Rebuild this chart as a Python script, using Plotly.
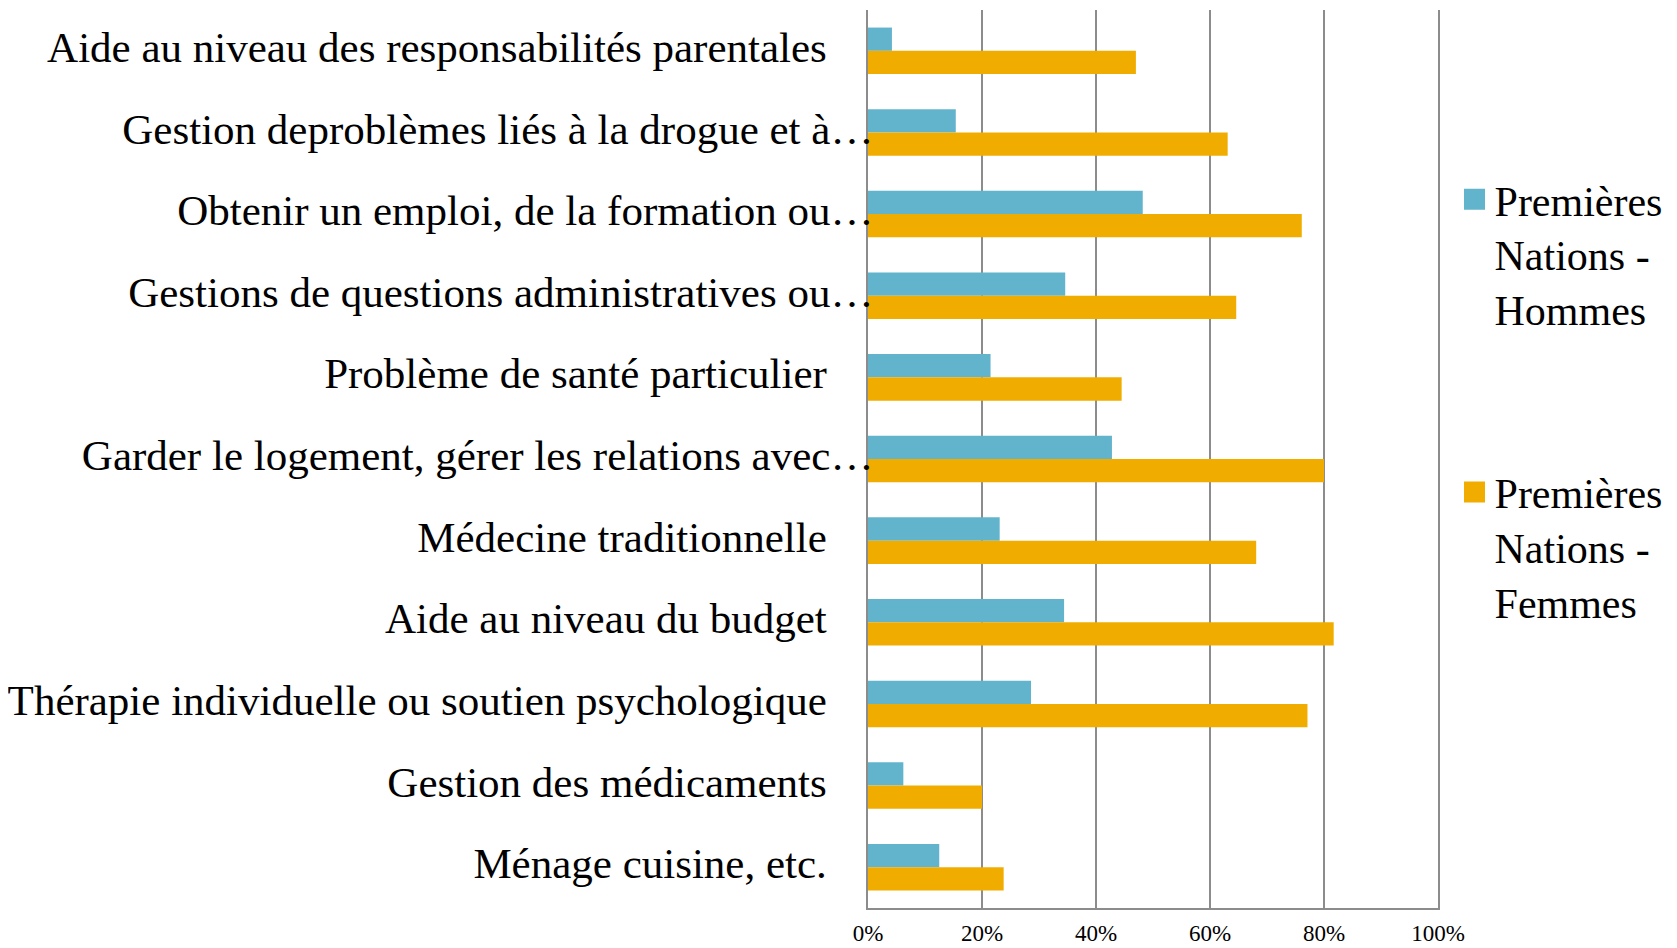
import plotly.graph_objects as go

categories = [
    "Aide au niveau des responsabilités parentales",
    "Gestion deproblèmes liés à la drogue et à…",
    "Obtenir un emploi, de la formation ou…",
    "Gestions de questions administratives ou…",
    "Problème de santé particulier",
    "Garder le logement, gérer les relations avec…",
    "Médecine traditionnelle",
    "Aide au niveau du budget",
    "Thérapie individuelle ou soutien psychologique",
    "Gestion des médicaments",
    "Ménage cuisine, etc.",
]
hommes = [4.2, 15.4, 48.2, 34.6, 21.5, 42.8, 23.1, 34.4, 28.6, 6.2, 12.5]
femmes = [47.0, 63.1, 76.1, 64.6, 44.5, 80.0, 68.1, 81.7, 77.1, 20.0, 23.8]
series_names = ["Premières<br>Nations -<br>Hommes", "Premières<br>Nations -<br>Femmes"]
x_ticks = [0, 20, 40, 60, 80, 100]

BLUE = "#62b4cd"
ORANGE = "#f0ad00"
GRID = "#8c8c8c"
FONT = "Liberation Serif"

# labels that were not truncated end a bit before the axis
ticktext = [c if c.endswith("…") else c + "\u2002\u2002\u200a" for c in categories]

fig = go.Figure()
fig.add_trace(go.Bar(y=categories, x=hommes, orientation="h", name=series_names[0],
                     marker=dict(color=BLUE, line=dict(width=0)), showlegend=False))
fig.add_trace(go.Bar(y=categories, x=femmes, orientation="h", name=series_names[1],
                     marker=dict(color=ORANGE, line=dict(width=0)), showlegend=False))
# legend entries with square symbols
for nm, col, grp in [(series_names[0], BLUE, "h"), (series_names[1], ORANGE, "f")]:
    fig.add_trace(go.Scatter(x=[None], y=[None], mode="markers", name=nm,
                             legendgroup=grp, hoverinfo="skip",
                             marker=dict(symbol="square", size=16, color=col,
                                         line=dict(color=col, width=5))))

fig.update_layout(
    width=1669, height=940,
    margin=dict(l=860, r=239, t=2, b=40, pad=0, autoexpand=False),
    paper_bgcolor="white", plot_bgcolor="white",
    barmode="group", bargap=0.43, bargroupgap=0,
    font=dict(family=FONT, color="black"),
    showlegend=True,
    legend=dict(x=1.029, y=0.827, xanchor="left", yanchor="top", valign="top",
                font=dict(size=42, family=FONT), traceorder="grouped",
                tracegroupgap=126, itemwidth=30, bgcolor="rgba(0,0,0,0)"),
    xaxis=dict(range=[0, 100], tickvals=x_ticks, ticktext=[f"{v}%" for v in x_ticks],
               showgrid=True, gridcolor=GRID, gridwidth=2, showline=True,
               linecolor=GRID, linewidth=2, zeroline=False, ticks="", automargin=False,
               tickfont=dict(size=23, family=FONT), ticklabelstandoff=3, fixedrange=True),
    yaxis=dict(categoryorder="array", categoryarray=categories, autorange="reversed",
               tickvals=categories, ticktext=ticktext, showgrid=False, automargin=False,
               showline=True, mirror=True, linecolor=GRID, linewidth=2, ticks="",
               tickfont=dict(size=43, family=FONT), ticklabelstandoff=-16,
               ticklabelshift=4),
)

fig.write_html("out.html")
